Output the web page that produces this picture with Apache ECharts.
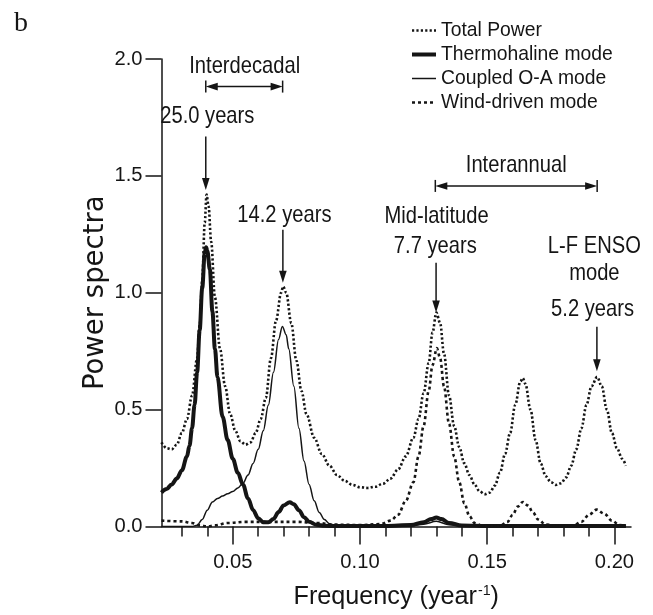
<!DOCTYPE html>
<html><head><meta charset="utf-8">
<script src="https://cdn.jsdelivr.net/npm/echarts@6/dist/echarts.min.js"></script>
<style>html,body{margin:0;padding:0;background:#fff}#c{width:653px;height:615px}</style>
</head><body><div id="c"></div>
<script>
// ---- data ----
const totalFreq  = [0.022,0.024,0.026,0.028,0.030,0.032,0.034,0.036,0.037,0.038,0.039,0.0397,0.0405,0.0415,0.043,0.045,0.047,0.049,0.051,0.053,0.055,0.057,0.059,0.061,0.063,0.065,0.067,0.069,0.0698,0.071,0.073,0.075,0.077,0.079,0.082,0.085,0.088,0.091,0.094,0.097,0.100,0.103,0.106,0.109,0.112,0.115,0.118,0.121,0.123,0.125,0.127,0.1285,0.130,0.1315,0.133,0.135,0.137,0.139,0.141,0.143,0.145,0.147,0.149,0.151,0.153,0.155,0.157,0.159,0.161,0.163,0.164,0.165,0.167,0.169,0.171,0.173,0.175,0.177,0.179,0.181,0.183,0.185,0.187,0.189,0.191,0.1932,0.195,0.197,0.199,0.201,0.203,0.2045];
const totalPower = [0.36,0.335,0.33,0.35,0.40,0.46,0.56,0.72,0.86,1.05,1.30,1.42,1.37,1.22,0.98,0.76,0.60,0.48,0.41,0.365,0.35,0.36,0.40,0.46,0.55,0.72,0.88,1.00,1.027,1.00,0.87,0.71,0.58,0.48,0.38,0.31,0.26,0.22,0.195,0.178,0.168,0.165,0.170,0.183,0.205,0.245,0.30,0.38,0.46,0.57,0.70,0.83,0.915,0.87,0.74,0.56,0.43,0.34,0.27,0.22,0.18,0.15,0.138,0.145,0.175,0.23,0.31,0.40,0.52,0.62,0.635,0.61,0.50,0.37,0.27,0.215,0.19,0.178,0.185,0.21,0.26,0.33,0.42,0.52,0.60,0.64,0.60,0.50,0.40,0.335,0.29,0.26];

const thermoFreq  = [0.022,0.024,0.026,0.028,0.030,0.032,0.033,0.034,0.035,0.036,0.037,0.038,0.039,0.0395,0.040,0.041,0.042,0.043,0.044,0.046,0.048,0.050,0.052,0.054,0.056,0.058,0.060,0.062,0.064,0.066,0.068,0.070,0.0724,0.074,0.076,0.078,0.080,0.083,0.086,0.090,0.110,0.120,0.125,0.128,0.130,0.132,0.135,0.140,0.150,0.2045];
const thermoPower = [0.145,0.16,0.18,0.205,0.24,0.30,0.345,0.42,0.52,0.66,0.84,1.02,1.17,1.195,1.18,1.10,0.92,0.76,0.64,0.47,0.37,0.29,0.23,0.18,0.12,0.07,0.035,0.018,0.018,0.032,0.062,0.09,0.104,0.095,0.07,0.04,0.02,0.007,0.003,0.002,0.002,0.006,0.018,0.032,0.038,0.032,0.015,0.004,0.002,0.002];

const coupledFreq  = [0.022,0.034,0.036,0.038,0.040,0.042,0.044,0.046,0.048,0.050,0.052,0.054,0.056,0.058,0.060,0.062,0.064,0.066,0.068,0.0695,0.071,0.072,0.074,0.076,0.078,0.080,0.082,0.084,0.086,0.088,0.090,0.095,0.120,0.125,0.130,0.135,0.140,0.2045];
const coupledPower = [0.0,0.0,0.005,0.03,0.07,0.105,0.12,0.13,0.14,0.15,0.165,0.185,0.22,0.27,0.33,0.41,0.52,0.66,0.80,0.856,0.82,0.76,0.60,0.42,0.28,0.18,0.11,0.06,0.03,0.012,0.005,0.002,0.003,0.01,0.022,0.008,0.002,0.0];

const windFreq  = [0.022,0.030,0.034,0.037,0.040,0.043,0.048,0.055,0.065,0.075,0.083,0.090,0.100,0.108,0.112,0.115,0.118,0.121,0.123,0.125,0.127,0.1285,0.1302,0.1315,0.133,0.135,0.137,0.139,0.141,0.143,0.145,0.148,0.155,0.158,0.160,0.162,0.164,0.166,0.168,0.170,0.173,0.178,0.184,0.187,0.190,0.193,0.196,0.199,0.202,0.2045];
const windPower = [0.025,0.022,0.015,0.005,0.0,0.005,0.015,0.02,0.02,0.02,0.015,0.008,0.006,0.01,0.025,0.05,0.11,0.19,0.30,0.43,0.58,0.69,0.763,0.72,0.60,0.44,0.30,0.19,0.10,0.045,0.015,0.003,0.003,0.02,0.05,0.085,0.105,0.09,0.06,0.03,0.008,0.002,0.005,0.02,0.05,0.072,0.055,0.025,0.006,0.002];

const seriesNames = ['Total Power','Thermohaline mode','Coupled O-A mode','Wind-driven mode'];
const yTicks  = [0,0.5,1.0,1.5,2.0];
const xMajor  = [0.05,0.10,0.15,0.20];
const xMinor  = [0.03,0.04,0.06,0.07,0.08,0.09,0.11,0.12,0.13,0.14,0.16,0.17,0.18,0.19];

// annotations (in data units: frequency, power)
const notes = [
  {t:'Interdecadal', f:0.0547, v:1.967},
  {t:'Interannual',  f:0.1614, v:1.547},
  {t:'25.0 years',   f:0.0400, v:1.753},
  {t:'14.2 years',   f:0.0703, v:1.333},
  {t:'Mid-latitude', f:0.1301, v:1.326},
  {t:'7.7 years',    f:0.1296, v:1.198},
  {t:'L-F ENSO',     f:0.1921, v:1.198},
  {t:'mode',         f:0.1921, v:1.085},
  {t:'5.2 years',    f:0.1914, v:0.927}
];
const vArrows = [
  {f:0.0394, v1:1.668, v2:1.44},
  {f:0.0697, v1:1.269, v2:1.043},
  {f:0.1299, v1:1.128, v2:0.915},
  {f:0.1931, v1:0.855, v2:0.664}
];
const hArrows = [
  {f1:0.0394, f2:0.0696, v:1.882},
  {f1:0.1296, f2:0.1932, v:1.457}
];

// ---- font detection ----
function hasFont(name){
  const c=document.createElement('canvas').getContext('2d');
  const s='abcdefghijklmnopqrstuvwxyz0123456789ABCDEF';
  c.font='40px monospace'; const a=c.measureText(s).width;
  c.font='40px "'+name+'", monospace'; const b=c.measureText(s).width;
  return Math.abs(a-b)>0.5;
}
const narrowOK = hasFont('Liberation Sans Narrow');
const NF = narrowOK ? 'Liberation Sans Narrow' : 'Liberation Sans';
const k = narrowOK ? 1 : 0.84;
const INK = '#151515';

const pairs = (xs, ys) => xs.map((x,i)=>[x, ys[i]]);

const chart = echarts.init(document.getElementById('c'), null, {renderer:'canvas'});
const axMin = 0.022, axMax = 0.2065;
const lineCommon = {type:'line', symbol:'none', smooth:0.35, smoothMonotone:'x', xAxisIndex:0, yAxisIndex:0};
const styles = [
  {color:INK, width:2.6, type:[2.2,2.2]},
  {color:INK, width:4, type:'solid'},
  {color:INK, width:1.5, type:'solid'},
  {color:INK, width:2.6, type:[3,3]}
];

chart.setOption({
  animation:false,
  backgroundColor:'#ffffff',
  grid:{left:161.5, right:22, top:59, bottom:88},
  legend:{
    orient:'vertical', left:405, top:16, itemWidth:24, itemHeight:14, itemGap:5,
    itemStyle:{opacity:0},
    textStyle:{fontFamily:NF, fontSize:23*k, color:INK, padding:[0,0,0,0]},
    data:seriesNames.map((n,i)=>({name:n, lineStyle:{width:styles[i].width, type:styles[i].type, color:INK}}))
  },
  xAxis:[{
    type:'value', min:axMin, max:axMax,
    axisLine:{show:true, lineStyle:{color:INK, width:1.5}},
    axisTick:{show:true, customValues:xMajor, length:18, lineStyle:{color:INK, width:1.5}},
    axisLabel:{customValues:xMajor, formatter:v=>v.toFixed(2), margin:26, fontFamily:NF, fontSize:24*k, color:INK},
    splitLine:{show:false},
    name:'Frequency (year{sup|-1})', nameLocation:'middle', nameGap:58, nameMoveOverlap:false,
    nameTextStyle:{fontFamily:NF, fontSize:30*k, color:INK, rich:{sup:{fontFamily:NF, fontSize:17*k, color:INK, verticalAlign:'top', padding:[0,0,12,1]}}}
  },{
    type:'value', min:axMin, max:axMax, position:'bottom', gridIndex:0,
    axisLine:{show:false},
    axisTick:{show:true, customValues:xMinor, length:10, lineStyle:{color:INK, width:1.5}},
    axisLabel:{show:false}, splitLine:{show:false}
  }],
  yAxis:{
    type:'value', min:0, max:2, interval:0.5,
    axisLine:{show:true, lineStyle:{color:INK, width:1.5}},
    axisTick:{show:true, length:16, lineStyle:{color:INK, width:1.5}},
    axisLabel:{customValues:yTicks, formatter:v=>v.toFixed(1), margin:19, fontFamily:NF, fontSize:24*k, color:INK},
    splitLine:{show:false},
    name:'Power spectra', nameLocation:'middle', nameGap:52, nameMoveOverlap:false,
    nameTextStyle:{fontFamily:'DejaVu Sans', fontSize:27.5, color:INK}
  },
  series:[
    Object.assign({}, lineCommon, {name:seriesNames[0], data:pairs(totalFreq,totalPower), z:4, lineStyle:styles[0], itemStyle:{color:INK}}),
    Object.assign({}, lineCommon, {name:seriesNames[1], data:pairs(thermoFreq,thermoPower), z:3, lineStyle:styles[1], itemStyle:{color:INK}}),
    Object.assign({}, lineCommon, {name:seriesNames[2], data:pairs(coupledFreq,coupledPower), z:3, lineStyle:styles[2], itemStyle:{color:INK}}),
    Object.assign({}, lineCommon, {name:seriesNames[3], data:pairs(windFreq,windPower), z:4, lineStyle:styles[3], itemStyle:{color:INK}})
  ]
});

// ---- annotations via the chart's own scales ----
const px = (f,v) => chart.convertToPixel({xAxisIndex:0, yAxisIndex:0}, [f,v]);
const g = [];
g.push({type:'text', x:21, y:24, style:{text:'b', fontFamily:'Liberation Serif', fontSize:28, fill:INK, align:'center', verticalAlign:'middle'}});
notes.forEach(n=>{
  const p = px(n.f,n.v);
  g.push({type:'text', x:p[0], y:p[1], scaleX:k, style:{text:n.t, fontFamily:NF, fontSize:24, fill:INK, align:'center', verticalAlign:'middle'}});
});
const HL=12, HW=3.8;
vArrows.forEach(a=>{
  const p1=px(a.f,a.v1), p2=px(a.f,a.v2);
  g.push({type:'line', shape:{x1:p1[0],y1:p1[1],x2:p2[0],y2:p2[1]-HL+1}, style:{stroke:INK, lineWidth:1.5}});
  g.push({type:'polygon', shape:{points:[[p2[0],p2[1]],[p2[0]-HW,p2[1]-HL],[p2[0]+HW,p2[1]-HL]]}, style:{fill:INK}});
});
hArrows.forEach(a=>{
  const p1=px(a.f1,a.v), p2=px(a.f2,a.v);
  const y=p1[1];
  g.push({type:'line', shape:{x1:p1[0]+HL-1,y1:y,x2:p2[0]-HL+1,y2:y}, style:{stroke:INK, lineWidth:1.5}});
  g.push({type:'polygon', shape:{points:[[p1[0],y],[p1[0]+HL,y-HW],[p1[0]+HL,y+HW]]}, style:{fill:INK}});
  g.push({type:'polygon', shape:{points:[[p2[0],y],[p2[0]-HL,y-HW],[p2[0]-HL,y+HW]]}, style:{fill:INK}});
  g.push({type:'line', shape:{x1:p1[0],y1:y-6,x2:p1[0],y2:y+6}, style:{stroke:INK, lineWidth:1.5}});
  g.push({type:'line', shape:{x1:p2[0],y1:y-6,x2:p2[0],y2:y+6}, style:{stroke:INK, lineWidth:1.5}});
});
chart.setOption({graphic:g});
</script>
</body></html>
